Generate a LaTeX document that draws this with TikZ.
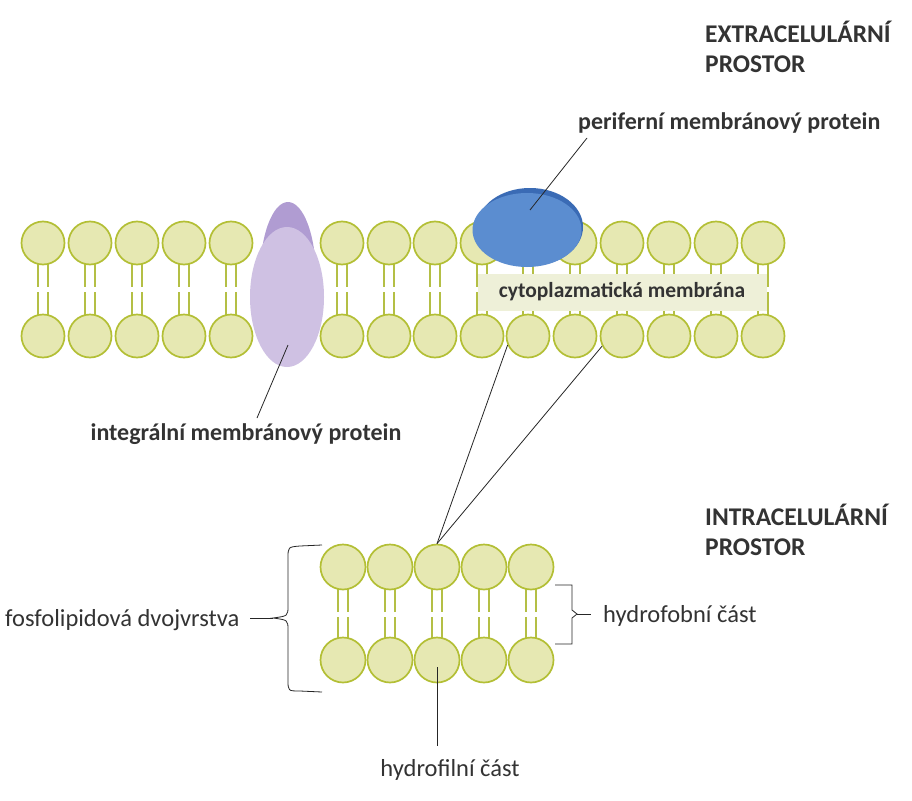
\documentclass[tikz,border=0pt]{standalone}
\usepackage{fontspec}
\setmainfont{Carlito}
\usetikzlibrary{shapes.geometric}
\definecolor{headfill}{HTML}{E6E8B2}
\definecolor{headline}{HTML}{B3BF35}
\definecolor{stalkc}{HTML}{B4BF45}
\definecolor{txt}{HTML}{333333}
\definecolor{blueL}{HTML}{5B8DD0}
\definecolor{blueD}{HTML}{3A6BB5}
\definecolor{purL}{HTML}{CFC1E3}
\definecolor{purD}{HTML}{B09CD2}
\definecolor{boxfill}{HTML}{EEF0D8}
\tikzset{
  head/.style={circle, draw=headline, fill=headfill, line width=1.7pt, minimum size=43pt, inner sep=0pt},
  stalk/.style={draw=stalkc, line width=1.8pt},
  boldlbl/.style={font=\fontsize{24}{28}\selectfont\bfseries, text=txt, inner sep=0pt},
  headlbl/.style={font=\fontsize{25.5}{30}\selectfont\bfseries, text=txt, inner sep=0pt},
  normlbl/.style={font=\fontsize{24.5}{28}\selectfont, text=txt, inner sep=0pt},
  conn/.style={draw=black!85, line width=0.8pt},
  membox/.style={fill=boxfill, minimum width=289pt, minimum height=37pt, inner sep=0pt, font=\fontsize{21.5}{25}\selectfont\bfseries, text=txt}
}
\begin{document}
\begin{tikzpicture}[x={(1pt,0)},y={(0,-1pt)}]
\useasboundingbox[fill=white] (0,0) rectangle (912,800);

% ---- upper membrane ----
\foreach \x [count=\i] in {43,90,137,184,231,342,389,435,482,528,575,622,669,716,763}{
  \draw[stalk] (\x-5,262) -- (\x-5,287) (\x+5,262) -- (\x+5,287);
  \draw[stalk] (\x-5,292) -- (\x-5,316) (\x+5,292) -- (\x+5,316);
  \node[head] (t\i) at (\x,243) {};
  \node[head] (b\i) at (\x,336) {};
}

% integral protein
\node[ellipse, fill=purD, minimum width=56pt, minimum height=150pt, inner sep=0pt] (intD) at (288,277) {};
\node[ellipse, fill=purL, minimum width=74pt, minimum height=140pt, inner sep=0pt] (intL) at (287,297) {};

% peripheral protein
\node[ellipse, fill=blueD, minimum width=106pt, minimum height=78pt, inner sep=0pt] (perD) at (530,227) {};
\node[ellipse, fill=blueL, minimum width=109pt, minimum height=74pt, inner sep=0pt] (perL) at (527,230) {};

% membrane label
\node[membox] (cyto) at (622,292) {cytoplazmatická membrána};

% ---- lower bilayer ----
\foreach \x [count=\i] in {343,390,437,484,531}{
  \draw[stalk] (\x-5,586) -- (\x-5,612) (\x+5,586) -- (\x+5,612);
  \draw[stalk] (\x-5,617) -- (\x-5,640) (\x+5,617) -- (\x+5,640);
  \node[head, minimum height=45pt] (lt\i) at (\x,567) {};
  \node[head, minimum height=45pt] (lb\i) at (\x,660) {};
}

% ---- labels ----
\node[headlbl, anchor=base west] (ext1) at (705,43) {EXTRACELULÁRNÍ};
\node[headlbl, anchor=base west] (ext2) at (705,72) {PROSTOR};
\node[boldlbl, anchor=base west] (perlbl) at (578,129) {periferní membránový protein};
\node[boldlbl, anchor=base] (intlbl) at (246,440) {integrální membránový protein};
\node[headlbl, anchor=base west] (int1) at (705,525) {INTRACELULÁRNÍ};
\node[headlbl, anchor=base west] (int2) at (705,555) {PROSTOR};
\node[normlbl, anchor=base west] (fos) at (5,626) {fosfolipidová dvojvrstva};
\node[normlbl, anchor=base west] (hfob) at (603,622) {hydrofobní část};
\node[normlbl, anchor=base] (hfil) at (450,776) {hydrofilní část};

% ---- connectors ----
\coordinate (perIn) at (530,210);
\coordinate (perEnd) at (587,138);
\coordinate (intIn) at (288,345);
\coordinate (intEnd) at (257,418);
\coordinate (filIn) at (437,667);
\coordinate (filEnd) at (437,746);
\coordinate (lbTip) at (273,618);
\coordinate (fosEnd) at (250,618);
\coordinate (rbTip) at (577,614);
\coordinate (hfobEnd) at (591,614);

\draw[conn] (perIn) -- (perEnd);
\draw[conn] (intIn) -- (intEnd);
\draw[conn] (b10.204) -- (lt3.north);
\draw[conn] (b12.207) -- (lt3.north);
\draw[conn] (filIn) -- (filEnd);
\draw[conn] (fosEnd) -- (lbTip);
\draw[conn] (rbTip) -- (hfobEnd);

% left brace
\draw[conn] (322,545) -- (300,546) .. controls (288,547) .. (288,558) -- (288,606)
  .. controls (288,616) .. (lbTip) .. controls (288,620) .. (288,630) -- (288,680)
  .. controls (288,691) .. (300,691) -- (322,692);
% right brace
\draw[conn] (555,585) -- (572,585) -- (572,610) -- (rbTip) -- (572,618) -- (572,644) -- (555,644);
\end{tikzpicture}
\end{document}
